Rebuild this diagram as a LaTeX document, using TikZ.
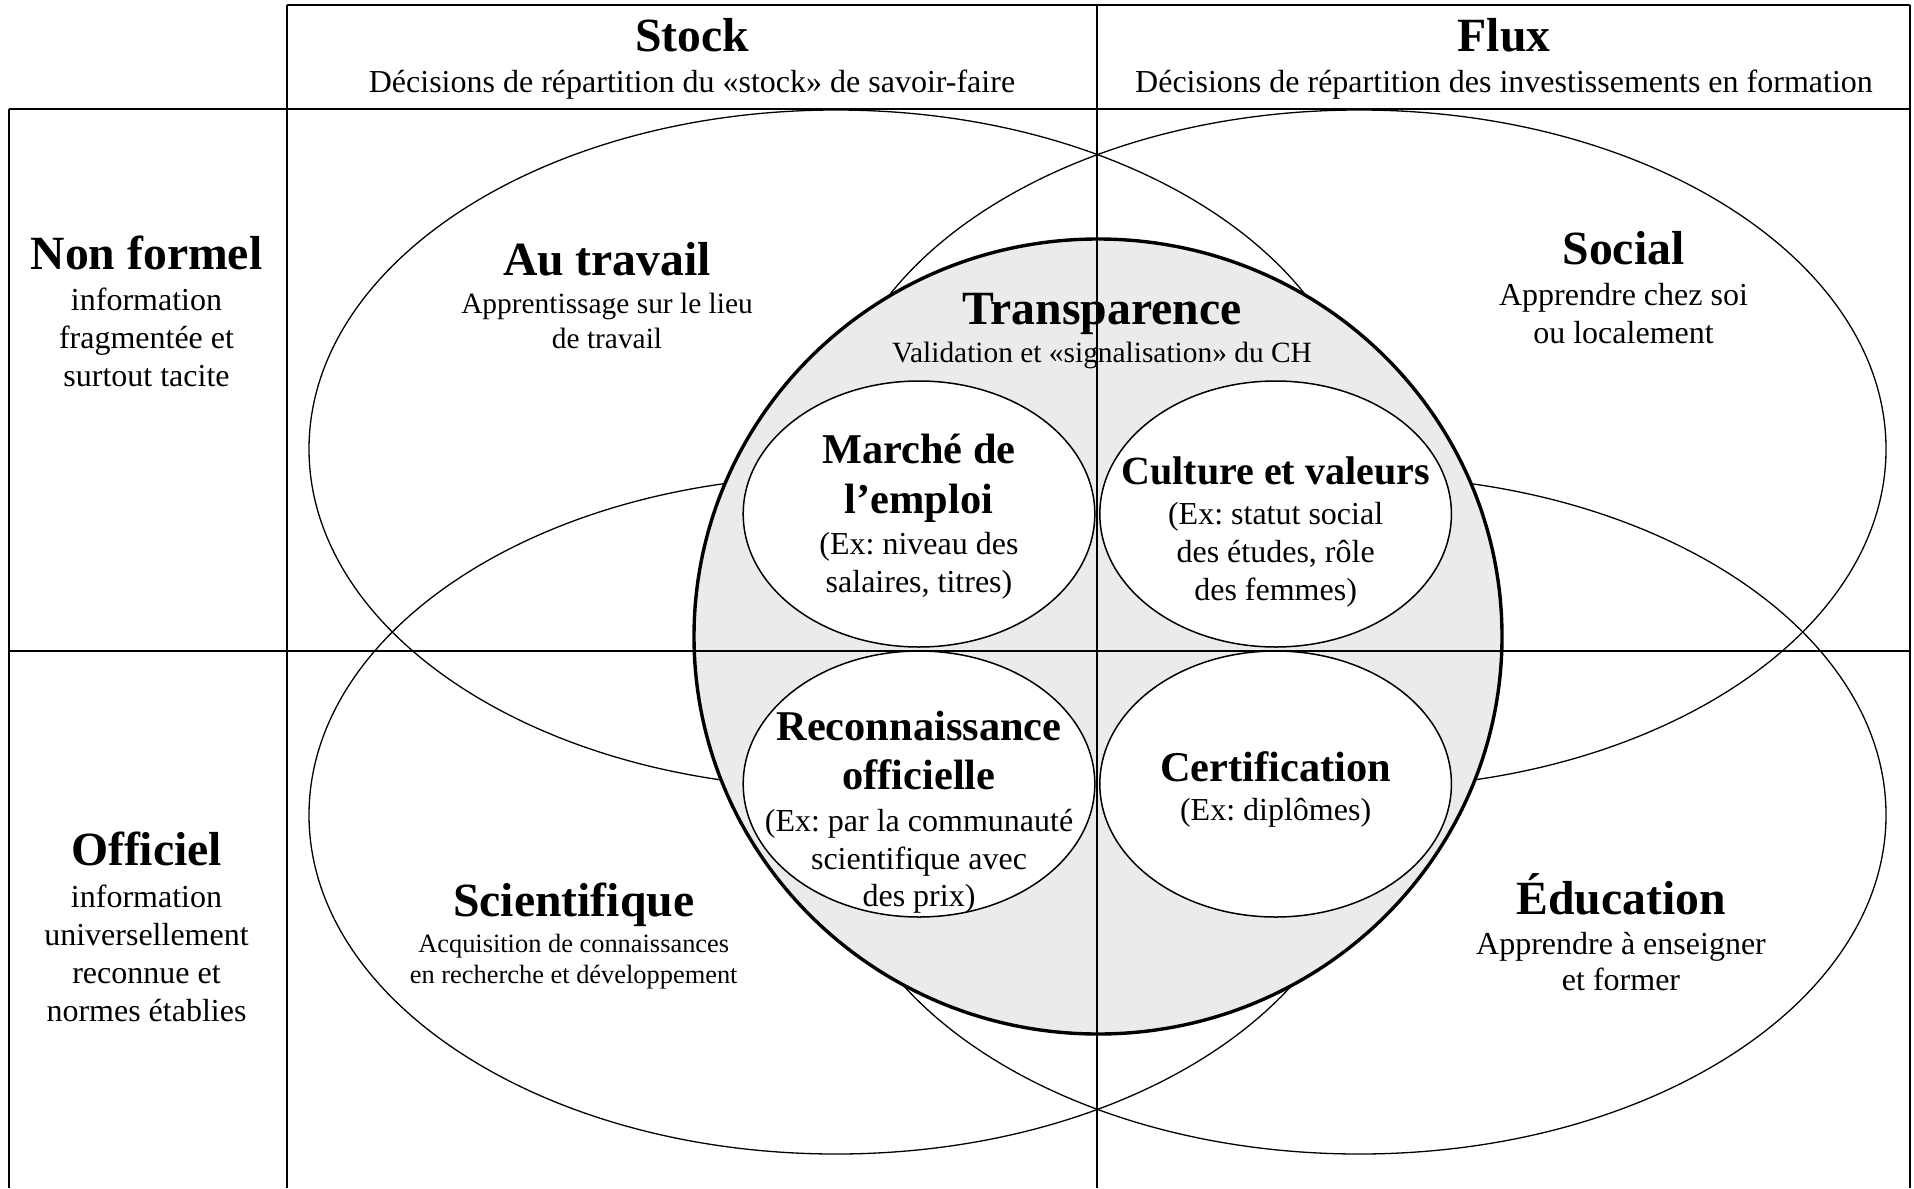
\documentclass[tikz,border=0pt]{standalone}
\usepackage{fontspec}
\setmainfont{Liberation Serif}
\usetikzlibrary{shapes.geometric}
\definecolor{corefill}{HTML}{EBEBEB}
\frenchspacing

\begin{document}
\begin{tikzpicture}[x=0.5pt,y=-0.5pt,
  grid/.style={line width=1pt},
  bigell/.style={ellipse, draw, line width=0.65pt, inner sep=0pt,
    minimum width=527pt, minimum height=339pt},
  core/.style={ellipse, draw, line width=1.7pt, fill=corefill, inner sep=0pt,
    minimum width=404pt, minimum height=397.5pt},
  lens/.style={ellipse, draw, line width=0.75pt, fill=white, inner sep=0pt,
    minimum width=175.8pt, minimum height=133pt},
  txt/.style={anchor=base, inner sep=0pt},
  head/.style={txt, font=\bfseries\fontsize{23.85}{28}\selectfont},
  mid/.style={txt, font=\bfseries\fontsize{21.2}{25}\selectfont},
  body/.style={txt, font=\fontsize{16}{19}\selectfont},
  note/.style={txt, font=\fontsize{14.7}{17}\selectfont},
  fine/.style={txt, font=\fontsize{13.2}{16}\selectfont},
]
\useasboundingbox (0,0) rectangle (1914,1188);

% the four domains of learning
\node[bigell] (travail) at (836,449) {};
\node[bigell] (social)  at (1359,449) {};
\node[bigell] (scient)  at (836,815) {};
\node[bigell] (educ)    at (1359,815) {};

% transparency core and its four mechanisms
\node[core] (transp) at (1098,636.5) {};
\node[lens] (marche) at (919,514) {};
\node[lens] (cult)   at (1275.6,514) {};
\node[lens] (recon)  at (919,784) {};
\node[lens] (certif) at (1275.6,784) {};

% table frame
\coordinate (hl) at (287,5);
\coordinate (hm) at (1097,5);
\coordinate (hr) at (1910,5);
\coordinate (rl) at (8.5,109);
\coordinate (rr) at (1910,109);
\coordinate (ml) at (8.5,651);
\coordinate (mr) at (1910,651);
\coordinate (bl) at (8.5,1188);
\coordinate (bc) at (287,1188);
\coordinate (bm) at (1097,1188);
\coordinate (br) at (1910,1188);
\draw[grid] (hl) -- (hr);
\draw[grid] (rl) -- (rr);
\draw[grid] (ml) -- (mr);
\draw[grid] (rl) -- (bl);
\draw[grid] (hl) -- (bc);
\draw[grid] (hm) -- (bm);
\draw[grid] (hr) -- (br);

% column headers
\node[head] (stockT) at (692,52) {Stock};
\node[body] (stockS) at (692,93) {Décisions de répartition du «stock» de savoir-faire};
\node[head] (fluxT) at (1504,52) {Flux};
\node[body] (fluxS) at (1504,93) {Décisions de répartition des investissements en formation};

% row headers
\node[head] (nfT) at (146.5,269) {Non formel};
\node[body] (nf1) at (146.5,310) {information};
\node[body] (nf2) at (146.5,348) {fragmentée et};
\node[body] (nf3) at (146.5,386) {surtout tacite};
\node[head] (ofT) at (146.5,865) {Officiel};
\node[body] (of1) at (146.5,907) {information};
\node[body] (of2) at (146.5,945) {universellement};
\node[body] (of3) at (146.5,983) {reconnue et};
\node[body] (of4) at (146.5,1021) {normes établies};

% domain labels
\node[head] (travT) at (607,275) {Au travail};
\node[note] (trav1) at (607,313) {Apprentissage sur le lieu};
\node[note] (trav2) at (607,348) {de travail};
\node[head] (socT) at (1623.5,264) {Social};
\node[body] (soc1) at (1623.5,305) {Apprendre chez soi};
\node[body] (soc2) at (1623.5,343) {ou localement};
\node[head] (sciT) at (573.7,916) {Scientifique};
\node[fine] (sci1) at (573.7,952) {Acquisition de connaissances};
\node[fine] (sci2) at (573.7,983) {en recherche et développement};
\node[head] (eduT) at (1621,914) {Éducation};
\node[body] (edu1) at (1621,954) {Apprendre à enseigner};
\node[body] (edu2) at (1621,990) {et former};

% core labels
\node[head] (trT) at (1102,324) {Transparence};
\node[note] (tr1) at (1102,362) {Validation et «signalisation» du CH};

\node[mid]  (maT) at (919,463) {Marché de};
\node[mid]  (maU) at (919,513) {l’emploi};
\node[body] (ma1) at (919,554) {(Ex: niveau des};
\node[body] (ma2) at (919,592) {salaires, titres)};

\node[mid, font=\bfseries\fontsize{20}{24}\selectfont] (cuT) at (1275.6,484) {Culture et valeurs};
\node[body] (cu1) at (1275.6,524) {(Ex: statut social};
\node[body] (cu2) at (1275.6,562) {des études, rôle};
\node[body] (cu3) at (1275.6,600) {des femmes)};

\node[mid]  (reT) at (919,740) {Reconnaissance};
\node[mid]  (reU) at (919,789) {officielle};
\node[body] (re1) at (919,831) {(Ex: par la communauté};
\node[body] (re2) at (919,869) {scientifique avec};
\node[body] (re3) at (919,906) {des prix)};

\node[mid]  (ceT) at (1275.6,781) {Certification};
\node[body] (ce1) at (1275.6,820) {(Ex: diplômes)};
\end{tikzpicture}
\end{document}
